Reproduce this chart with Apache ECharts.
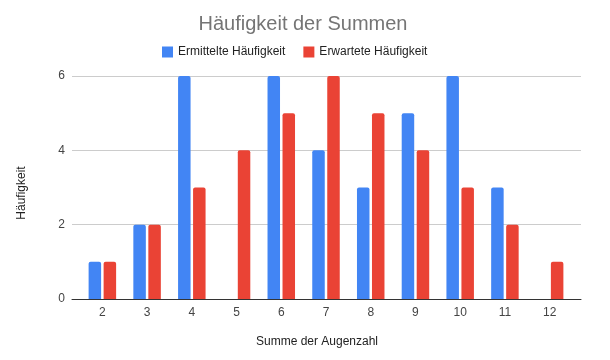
<!DOCTYPE html>
<html><head><meta charset="utf-8">
<script src="https://cdn.jsdelivr.net/npm/echarts@6/dist/echarts.min.js"></script>
<style>html,body{margin:0;padding:0;background:#fff}#c{width:610px;height:360px}</style>
</head><body><div id="c"></div>
<script>
const categories = ['2','3','4','5','6','7','8','9','10','11','12'];
const ermittelt = [1,2,6,0,6,4,3,5,6,3,0];
const erwartet = [1,2,3,4,5,6,5,4,3,2,1];
const yTicks = [0,2,4,6];
const seriesNames = ['Ermittelte Häufigkeit','Erwartete Häufigkeit'];

const font = 'Arial, "Liberation Sans", sans-serif';
const chart = echarts.init(document.getElementById('c'));
chart.setOption({
  animation: false,
  title: {text: 'Häufigkeit der Summen', left: 298, top: 9, textAlign: 'center',
    textStyle: {fontFamily: font, fontSize: 20, fontWeight: 'normal', color: '#757575'}},
  legend: {data: seriesNames, top: 46, left: 162, padding: 0, itemWidth: 11, itemHeight: 11, itemGap: 18,
    icon: 'rect', textStyle: {fontFamily: font, fontSize: 12, color: '#222'}},
  grid: [
    {left: 72, right: 29, top: 76, bottom: 61},
    {left: 80, right: 38, top: 76, bottom: 61}
  ],
  xAxis: [
    {gridIndex: 0, type: 'category', data: [''], axisLine: {lineStyle: {color: '#333', width: 1}},
      axisTick: {show: false}, axisLabel: {show: false}},
    {gridIndex: 1, type: 'category', data: categories, axisLine: {show: false}, axisTick: {show: false},
      axisLabel: {fontFamily: font, fontSize: 12, color: '#444', margin: 8}}
  ],
  yAxis: [
    {gridIndex: 0, type: 'value', min: yTicks[0], max: yTicks[yTicks.length-1], interval: 2,
      axisLine: {show: false}, axisTick: {show: false},
      axisLabel: {fontFamily: font, fontSize: 12, color: '#444', margin: 7},
      splitLine: {lineStyle: {color: '#ccc'}}},
    {gridIndex: 1, type: 'value', min: yTicks[0], max: yTicks[yTicks.length-1], interval: 2,
      axisLine: {show: false}, axisTick: {show: false}, axisLabel: {show: false}, splitLine: {show: false}}
  ],
  graphic: [
    {type: 'text', style: {text: 'Summe der Augenzahl', x: 317, y: 342, align: 'center',
      verticalAlign: 'middle', fill: '#222', font: '12px ' + font}},
    {type: 'text', style: {text: 'Häufigkeit', x: 0, y: 0, align: 'center', verticalAlign: 'middle',
      fill: '#222', font: '12px ' + font}, x: 22, y: 193, rotation: Math.PI/2}
  ],
  series: [
    {name: seriesNames[0], type: 'bar', xAxisIndex: 1, yAxisIndex: 1, data: ermittelt,
      barWidth: 12.5, barGap: '20%', itemStyle: {color: '#4285F4', borderRadius: [2,2,0,0]}},
    {name: seriesNames[1], type: 'bar', xAxisIndex: 1, yAxisIndex: 1, data: erwartet,
      barWidth: 12.5, barGap: '20%', itemStyle: {color: '#EA4335', borderRadius: [2,2,0,0]}}
  ]
});
</script></body></html>
